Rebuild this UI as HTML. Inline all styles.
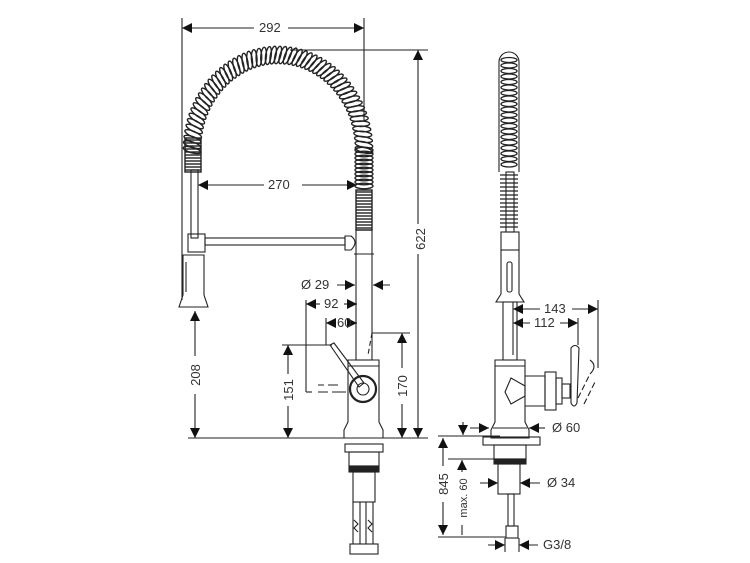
<!DOCTYPE html>
<html><head><meta charset="utf-8"><style>
html,body{margin:0;padding:0;background:#fff;}
svg{display:block}
text{font-family:"Liberation Sans",sans-serif;font-size:13px;fill:#333}
</style></head><body>
<svg id="s" width="750" height="563" viewBox="0 0 750 563" xmlns="http://www.w3.org/2000/svg">
<defs>
<marker id="a" viewBox="0 0 10 10" refX="10" refY="5" markerWidth="10" markerHeight="10" orient="auto-start-reverse" markerUnits="userSpaceOnUse"><path d="M0,0 L10,5 L0,10z" fill="#111"/></marker>
</defs>
<g stroke="#222" stroke-width="1.1" fill="none">
<line x1="182" y1="18" x2="182" y2="300"/>
<line x1="364" y1="18" x2="364" y2="120"/>
<line x1="290" y1="50" x2="428" y2="50"/>
<line x1="188" y1="438" x2="428" y2="438"/>
<line x1="306" y1="300" x2="306" y2="392"/><line x1="306" y1="392" x2="312" y2="392"/>
<line x1="326" y1="318" x2="326" y2="345"/>
<line x1="282" y1="345" x2="332" y2="345"/>
<line x1="372" y1="333" x2="410" y2="333"/>
<line x1="372" y1="333" x2="368" y2="355" stroke-dasharray="5,3"/>
<path d="M318,385 h6 M328,385 h10 M318,392 h10 M332,392 h14" />
<line x1="182" y1="28" x2="254" y2="28" marker-start="url(#a)"/>
<line x1="288" y1="28" x2="364" y2="28" marker-end="url(#a)"/>
<line x1="418" y1="50" x2="418" y2="224" marker-start="url(#a)"/>
<line x1="418" y1="254" x2="418" y2="438" marker-end="url(#a)"/>
<line x1="198" y1="185" x2="264" y2="185" marker-start="url(#a)"/>
<line x1="302" y1="185" x2="357" y2="185" marker-end="url(#a)"/>
<line x1="195" y1="311" x2="195" y2="356" marker-start="url(#a)"/>
<line x1="195" y1="394" x2="195" y2="438" marker-end="url(#a)"/>
<line x1="288" y1="345" x2="288" y2="374" marker-start="url(#a)"/>
<line x1="288" y1="406" x2="288" y2="438" marker-end="url(#a)"/>
<line x1="402" y1="333" x2="402" y2="368" marker-start="url(#a)"/>
<line x1="402" y1="404" x2="402" y2="438" marker-end="url(#a)"/>
<line x1="337" y1="285" x2="355" y2="285" marker-end="url(#a)"/>
<line x1="390" y1="285" x2="373" y2="285" marker-end="url(#a)"/>
<line x1="306" y1="304" x2="320" y2="304" marker-start="url(#a)"/>
<line x1="344" y1="304" x2="357" y2="304" marker-end="url(#a)"/>
<line x1="326" y1="323" x2="336" y2="323" marker-start="url(#a)"/>
<line x1="352" y1="323" x2="357" y2="323" marker-end="url(#a)"/>
<g id="coil" stroke-width="1.4"></g>
<rect x="191" y="170" width="7" height="68"/>
<rect x="188" y="234" width="17" height="18"/>
<rect x="205" y="238" width="140" height="7"/>
<path d="M345,236 h6 q8,6 0,14 h-6z"/>
<path d="M183,255 h21 v40 l4,12 h-29 l4,-12z"/>
<line x1="186" y1="262" x2="186" y2="292"/>
<rect x="356" y="230" width="16" height="130"/>
<line x1="354" y1="254" x2="374" y2="254"/>
<path d="M348,360 h31 v62 l4,8 v8 h-39 v-8 l4,-8z"/>
<line x1="348" y1="366" x2="379" y2="366"/>
<circle cx="363" cy="389" r="13" stroke-width="2.2"/>
<circle cx="363" cy="389" r="6"/>
<path d="M330,345 l4,-2 l30,40 l-5,4z"/>
<rect x="345" y="444" width="38" height="8"/>
<rect x="349" y="452" width="30" height="14"/>
<rect x="349" y="466" width="30" height="6" fill="#222"/>
<rect x="353" y="472" width="22" height="30"/>
<path d="M353,502 v42 M360,502 v42 M366,502 v42 M373,502 v42"/>
<rect x="350" y="544" width="28" height="10"/>
<path d="M354,520 l4,4 l-4,4 l4,4 M368,520 l4,4 l-4,4 l4,4"/>
<path d="M499,172 V62 a10,10 0 0 1 20,0 V172"/>
<g id="rc" stroke-width="1.3"></g>
<rect x="506" y="172" width="8" height="60"/>
<rect x="501" y="232" width="18" height="18"/>
<path d="M501,250 h18 v44 l5,8 h-28 l5,-8z"/>
<rect x="507" y="262" width="5" height="30" rx="2"/>
<rect x="503" y="302" width="14" height="58"/>
<path d="M495,360 h30 v62 l4,8 v8 h-38 v-8 l4,-8z"/>
<line x1="495" y1="366" x2="525" y2="366"/>
<line x1="493" y1="428" x2="527" y2="428"/>
<path d="M525,376 h20 v30 h-20 M511,378 l14,8 v10 l-14,8 l-6,-12z"/>
<rect x="545" y="372" width="11" height="38"/>
<rect x="556" y="378" width="6" height="26"/>
<rect x="562" y="384" width="8" height="14"/>
<path d="M571,348 q4,-5 8,0 l-2,55 q-3,6 -6,0z"/>
<path d="M578,398 l12,-24 M584,404 l12,-24" stroke-dasharray="6,3"/>
<path d="M590,360 q8,6 0,14" />
<line x1="513" y1="302" x2="513" y2="355"/>
<line x1="598" y1="300" x2="598" y2="368"/>
<line x1="578" y1="318" x2="578" y2="345"/>
<line x1="513" y1="309" x2="540" y2="309" marker-start="url(#a)"/>
<line x1="572" y1="309" x2="598" y2="309" marker-end="url(#a)"/>
<line x1="513" y1="323" x2="530" y2="323" marker-start="url(#a)"/>
<line x1="560" y1="323" x2="578" y2="323" marker-end="url(#a)"/>
<line x1="470" y1="428" x2="489" y2="428" marker-end="url(#a)"/>
<line x1="545" y1="428" x2="529" y2="428" marker-end="url(#a)"/>
<line x1="463" y1="422" x2="463" y2="435" marker-end="url(#a)"/>
<line x1="438" y1="436" x2="500" y2="436"/>
<rect x="483" y="437" width="57" height="8"/>
<rect x="494" y="445" width="32" height="14"/>
<rect x="494" y="459" width="32" height="5" fill="#222"/>
<rect x="498" y="464" width="22" height="30"/>
<rect x="508" y="494" width="6" height="32"/>
<rect x="506" y="526" width="12" height="12"/>
<line x1="448" y1="459" x2="494" y2="459"/>
<line x1="438" y1="537" x2="506" y2="537"/>
<line x1="443" y1="438" x2="443" y2="466" marker-start="url(#a)"/>
<line x1="443" y1="502" x2="443" y2="535" marker-end="url(#a)"/>
<line x1="462" y1="460" x2="462" y2="472" marker-start="url(#a)"/>
<line x1="462" y1="525" x2="462" y2="535"/>
<line x1="480" y1="483" x2="498" y2="483" marker-end="url(#a)"/>
<line x1="540" y1="483" x2="520" y2="483" marker-end="url(#a)"/>
<line x1="488" y1="545" x2="505" y2="545" marker-end="url(#a)"/>
<line x1="538" y1="545" x2="519" y2="545" marker-end="url(#a)"/>
<line x1="505" y1="538" x2="505" y2="552"/><line x1="519" y1="538" x2="519" y2="552"/>
</g>
<text x="259" y="32">292</text>
<text x="268" y="189">270</text>
<text x="301" y="289">Ø 29</text>
<text x="324" y="308">92</text>
<text x="337" y="327">60</text>
<text transform="translate(425,239) rotate(-90)" text-anchor="middle">622</text>
<text transform="translate(200,375) rotate(-90)" text-anchor="middle">208</text>
<text transform="translate(293,390) rotate(-90)" text-anchor="middle">151</text>
<text transform="translate(407,386) rotate(-90)" text-anchor="middle">170</text>
<text x="544" y="313">143</text>
<text x="534" y="327">112</text>
<text x="552" y="432">Ø 60</text>
<text x="547" y="487">Ø 34</text>
<text x="543" y="549">G3/8</text>
<text transform="translate(448,484) rotate(-90)" text-anchor="middle">845</text>
<text transform="translate(467,498) rotate(-90)" text-anchor="middle" style="font-size:11px">max. 60</text>
<script>
(function(){
var ns="http://www.w3.org/2000/svg",g=document.getElementById("coil");
function add(el,at){var e=document.createElementNS(ns,el);for(var k in at)e.setAttribute(k,at[k]);g.appendChild(e);return e;}
var cx=278,cy=150,rx=86,ry=95;
for(var i=0;i<=56;i++){var t=Math.PI-Math.PI*i/56;var x=cx+rx*Math.cos(t),y=cy-ry*Math.sin(t);
var dx=-rx*Math.sin(t),dy=-ry*Math.cos(t);var ang=Math.atan2(dy,dx)*180/Math.PI;
add("ellipse",{cx:x.toFixed(1),cy:y.toFixed(1),rx:2.8,ry:9,transform:"rotate("+(ang+15).toFixed(1)+" "+x.toFixed(1)+" "+y.toFixed(1)+")"});}
for(var y=140;y<172;y+=3)add("line",{x1:185,y1:y,x2:201,y2:y});
add("rect",{x:185,y:138,width:16,height:34});
for(var y=150;y<190;y+=4)add("ellipse",{cx:364,cy:y,rx:9,ry:2.8});
for(var y=192;y<230;y+=3)add("line",{x1:356,y1:y,x2:372,y2:y});
add("rect",{x:356,y:190,width:16,height:40});
var r=document.getElementById("rc");
function radd(el,at){var e=document.createElementNS(ns,el);for(var k in at)e.setAttribute(k,at[k]);r.appendChild(e);}
for(var y=60;y<170;y+=5.5)radd("ellipse",{cx:509,cy:y,rx:8,ry:2.5});
for(var y=175;y<230;y+=4)radd("line",{x1:500,y1:y,x2:518,y2:y});
})();
</script>
</svg>
</body></html>
